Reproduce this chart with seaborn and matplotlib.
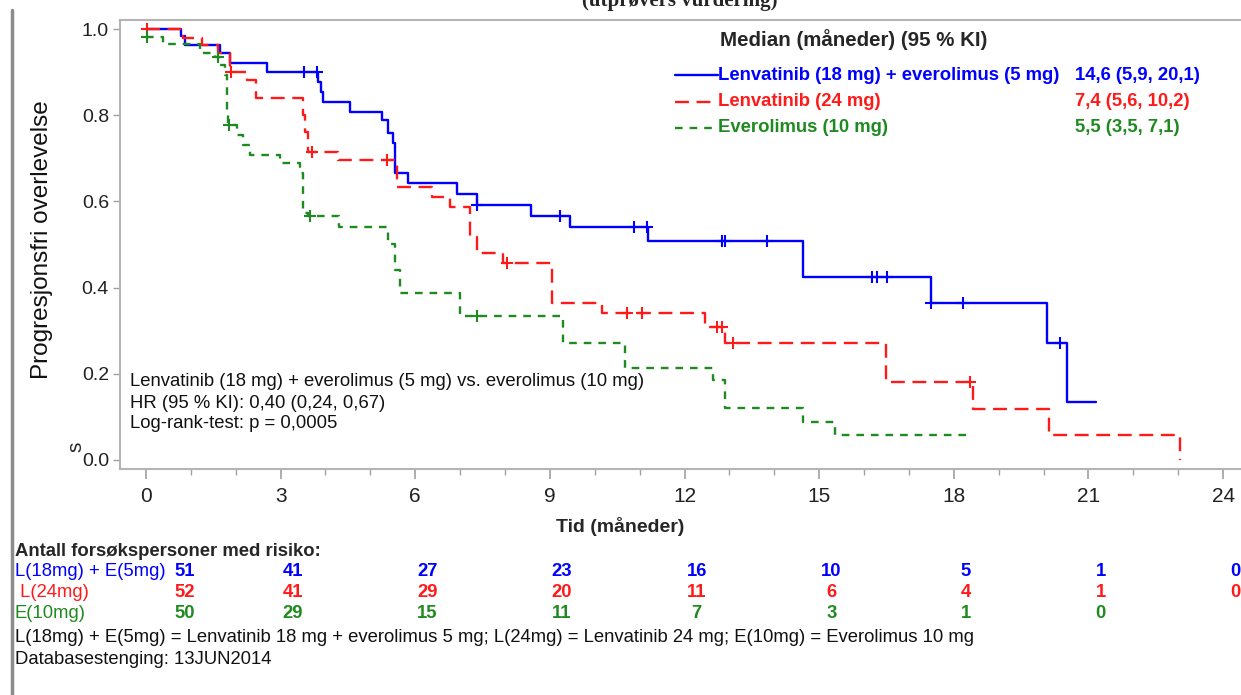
import numpy as np
import matplotlib
matplotlib.use("Agg")
import matplotlib.pyplot as plt
import seaborn as sns
from matplotlib.lines import Line2D

sns.set_theme(style="white")
plt.rcParams['font.family'] = ['Liberation Sans', 'DejaVu Sans']
plt.rcParams['lines.scale_dashes'] = False

# Lenvatinib (18 mg) + everolimus (5 mg)
le_time = [0, 0.79, 0.87, 1.65, 1.87, 2.69, 3.83, 3.91, 3.95, 4.55, 5.25, 5.40, 5.51, 5.55,
           5.84, 6.93, 7.37, 8.58, 9.45, 11.18, 14.64, 17.50, 20.07, 20.52, 21.17]
le_surv = [1.0, 0.984, 0.963, 0.944, 0.921, 0.900, 0.878, 0.855, 0.831, 0.808, 0.789, 0.759, 0.735, 0.666,
           0.643, 0.617, 0.592, 0.567, 0.541, 0.509, 0.425, 0.364, 0.271, 0.135, 0.135]
le_cens = [3.51, 3.80, 7.37, 9.23, 10.88, 11.16, 12.84, 12.90, 13.84, 16.18, 16.29, 16.51, 17.50, 18.20, 20.37]

# Lenvatinib (24 mg)
l_time = [0, 0.83, 1.24, 1.60, 1.87, 2.24, 2.45, 3.50, 3.55, 3.62, 4.28, 5.59, 6.37, 6.77,
          7.22, 7.37, 7.96, 9.04, 10.15, 12.46, 12.90, 16.50, 18.43, 20.12, 23.04]
l_surv = [1.0, 0.980, 0.963, 0.944, 0.900, 0.882, 0.840, 0.800, 0.760, 0.715, 0.696, 0.634, 0.611, 0.588,
          0.518, 0.480, 0.457, 0.364, 0.341, 0.309, 0.271, 0.181, 0.119, 0.058, 0.0]
l_cens = [0.02, 1.90, 3.69, 5.36, 8.04, 10.71, 11.05, 12.72, 12.83, 13.07, 18.36]

# Everolimus (10 mg)
e_time = [0, 0.38, 1.20, 1.54, 1.65, 1.75, 1.80, 1.83, 2.02, 2.17, 2.32, 2.99, 3.43, 3.50, 3.60,
          4.30, 5.40, 5.55, 5.66, 7.00, 9.30, 10.67, 12.64, 12.90, 14.64, 15.35, 18.43]
e_surv = [0.982, 0.965, 0.944, 0.936, 0.916, 0.893, 0.812, 0.777, 0.754, 0.731, 0.708, 0.690, 0.666, 0.573, 0.565,
          0.541, 0.500, 0.440, 0.387, 0.333, 0.272, 0.213, 0.186, 0.120, 0.089, 0.058, 0.058]
e_cens = [0.02, 1.60, 1.85, 3.65, 7.37]

risk_times = [0, 3, 6, 9, 12, 15, 18, 21, 24]
risk_le = [51, 41, 27, 23, 16, 10, 5, 1, 0]
risk_l = [52, 41, 29, 20, 11, 6, 4, 1, 0]
risk_e = [50, 29, 15, 11, 7, 3, 1, 0]

names = ["Lenvatinib (18 mg) + everolimus (5 mg)", "Lenvatinib (24 mg)", "Everolimus (10 mg)"]
short = ["L(18mg) + E(5mg)", " L(24mg)", "E(10mg)"]
medians = ["14,6 (5,9, 20,1)", "7,4 (5,6, 10,2)", "5,5 (3,5, 7,1)"]

BLUE, RED, GREEN = "#0000ff", "#ff1a1a", "#1f8a1f"
colors = [BLUE, RED, GREEN]
styles = ["-", (0, (10, 5.5)), (0, (5.5, 5))]

W, H = 1241, 695
fig = plt.figure(figsize=(W / 100, H / 100), dpi=100)


def fx(px):
    return px / W


def fy(py):
    return 1 - py / H


ax = fig.add_axes([fx(120), fy(469), fx(1250) - fx(120), fy(20) - fy(469)])

curves = [(le_time, le_surv, le_cens), (l_time, l_surv, l_cens), (e_time, e_surv, e_cens)]
for (t, s, c), col, ls in zip(curves, colors, styles):
    sns.lineplot(x=t, y=s, ax=ax, drawstyle="steps-post", estimator=None, sort=False,
                 color=col, linewidth=1.7, linestyle=ls)
    idx = np.searchsorted(t, c, side="right") - 1
    cs = np.array(s)[idx]
    ax.plot(c, cs, linestyle="none", marker="+", markersize=9, mew=1.5, color=col)

ax.set_xlim(-0.579, 24.6)
ax.set_ylim(-0.0209, 1.0209)
ax.set_xticks(np.arange(0, 25, 3))
ax.set_xticks(np.arange(0, 25, 1), minor=True)
ax.set_yticks([0, 0.2, 0.4, 0.6, 0.8, 1.0])
ax.set_yticklabels(["0.0", "0.2", "0.4", "0.6", "0.8", "1.0"])
ax.tick_params(axis="x", which="major", bottom=True, length=7, width=1.2, color="#a0a0a0",
               labelsize=15, pad=6, labelcolor="#222222")
ax.tick_params(axis="x", which="minor", bottom=True, length=4, width=1.0, color="#a0a0a0")
ax.tick_params(axis="y", left=True, length=5, width=1.0, color="#a0a0a0",
               labelsize=14, pad=3, labelcolor="#222222")
for sp in ["left", "bottom", "top", "right"]:
    ax.spines[sp].set_color("#b4b4b4")
    ax.spines[sp].set_linewidth(1.5)
ax.set_xlabel("")
ax.set_ylabel("")

# title cut at the top
fig.text(fx(680), fy(6), "(utprøvers vurdering)", ha="center", va="baseline",
         fontsize=15, fontweight="bold", family=["Liberation Serif", "DejaVu Serif"])

fig.text(fx(42), fy(240), "Progresjonsfri overlevelse", rotation=90, ha="center", va="center",
         fontsize=17.5, color="#111111")
fig.text(fx(76), fy(447), "s", rotation=90, ha="center", va="center", fontsize=15)
fig.text(fx(620), fy(527), "Tid (måneder)", ha="center", va="center", fontsize=14, fontweight="bold")

# legend with medians
fig.text(fx(720), fy(40), "Median (måneder) (95 % KI)", ha="left", va="center",
         fontsize=14.8, fontweight="bold")
for i, (nm, md, col, ls) in enumerate(zip(names, medians, colors, styles)):
    yy = fy(75 + i * 26.5)
    fig.add_artist(Line2D([fx(675), fx(718)], [yy, yy], color=col, linewidth=1.7, linestyle=ls))
    fig.text(fx(718), yy, nm, ha="left", va="center", fontsize=13.3, fontweight="bold", color=col)
    fig.text(fx(1075), yy, md, ha="left", va="center", fontsize=13.3, fontweight="bold", color=col)

# HR box text
hr_lines = ["Lenvatinib (18 mg) + everolimus (5 mg) vs. everolimus (10 mg)",
            "HR (95 % KI): 0,40 (0,24, 0,67)",
            "Log-rank-test: p = 0,0005"]
for i, line in enumerate(hr_lines):
    fig.text(fx(130), fy(382 + i * 21), line, ha="left", va="center", fontsize=13.3, color="#111111")

# risk table
fig.text(fx(15), fy(551), "Antall forsøkspersoner med risiko:", ha="left", va="center",
         fontsize=13.3, fontweight="bold")
risk_rows = [risk_le, risk_l, risk_e]
xpos = np.array(risk_times, dtype=float) + 0.27
xpos[0] = 0.87
for i, (row, lab, col) in enumerate(zip(risk_rows, short, colors)):
    yy = fy(572 + i * 20.5)
    fig.text(fx(15), yy, lab, ha="left", va="center", fontsize=13.3, color=col)
    for xv, n in zip(xpos, row):
        xf = fig.transFigure.inverted().transform(ax.transData.transform((xv, 0)))[0]
        fig.text(xf, yy, str(n), ha="center", va="center", fontsize=13.3, fontweight="bold", color=col)

fig.text(fx(15), fy(637), "L(18mg) + E(5mg) = Lenvatinib 18 mg + everolimus 5 mg; L(24mg) = Lenvatinib 24 mg; "
         "E(10mg) = Everolimus 10 mg", ha="left", va="center", fontsize=13.3, color="#111111")
fig.text(fx(15), fy(660), "Databasestenging: 13JUN2014", ha="left", va="center", fontsize=13.3, color="#111111")

# page edge on the left
fig.add_artist(Line2D([fx(12), fx(12)], [fy(10), fy(695)], color="#8c8c8c", linewidth=2.5))

fig.savefig("out.png", dpi=100)
